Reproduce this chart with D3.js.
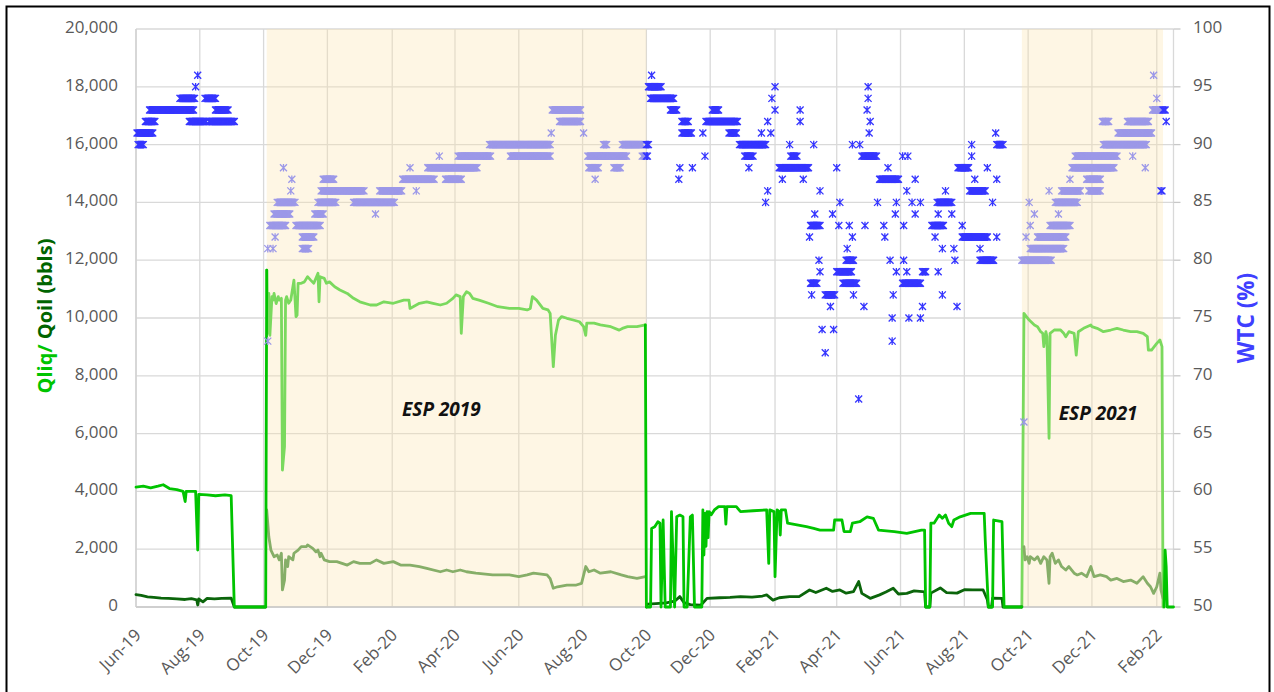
<!DOCTYPE html>
<html><head><meta charset="utf-8">
<script src="https://cdn.jsdelivr.net/npm/d3@7"></script>
<style>body{margin:0;background:#fff}svg{display:block}</style>
</head><body>
<svg id="c" width="1274" height="692"></svg>
<script>
// ---------- DATA ----------
// Qliq, conventional periods (bright green); null = gap
const qliqBase = [
["2019-06-01",4150],["2019-06-08",4180],["2019-06-15",4120],["2019-06-22",4180],["2019-06-27",4230],
["2019-07-03",4100],["2019-07-10",4060],["2019-07-16",4000],["2019-07-18",3650],["2019-07-19",4000],
["2019-07-28",4000],["2019-07-30",1970],["2019-07-31",3900],["2019-08-08",3880],["2019-08-16",3850],
["2019-08-25",3880],["2019-08-31",3850],["2019-09-03",0],["2019-10-03",0],["2019-10-04",11660],
["2019-10-05",null],
["2020-09-30",9760],["2020-10-01",0],["2020-10-05",0],["2020-10-06",2720],["2020-10-09",2780],
["2020-10-12",2950],["2020-10-14",2900],["2020-10-15",0],["2020-10-17",3010],["2020-10-19",0],
["2020-10-24",0],["2020-10-25",3300],["2020-10-28",0],["2020-10-30",3120],["2020-11-02",3180],
["2020-11-05",3120],["2020-11-06",0],["2020-11-09",0],["2020-11-12",3120],["2020-11-14",3180],
["2020-11-16",0],["2020-11-23",0],["2020-11-24",3360],["2020-11-25",1800],["2020-11-26",3240],
["2020-11-27",2100],["2020-11-28",3300],["2020-11-29",2400],["2020-11-30",3300],["2020-12-02",3190],
["2020-12-05",3360],["2020-12-09",3470],["2020-12-15",3470],["2020-12-16",2870],["2020-12-17",3470],
["2020-12-26",3470],["2020-12-30",3300],["2021-01-11",3330],["2021-01-24",3360],["2021-01-26",1510],
["2021-01-27",3360],["2021-01-31",3300],["2021-02-01",1050],["2021-02-03",3360],["2021-02-05",3300],
["2021-02-06",2490],["2021-02-07",3360],["2021-02-11",3360],["2021-02-13",2900],["2021-02-22",2840],
["2021-03-03",2780],["2021-03-10",2720],["2021-03-16",2660],["2021-03-29",2660],["2021-03-30",3010],
["2021-04-06",3010],["2021-04-08",2610],["2021-04-14",2610],["2021-04-16",2900],["2021-04-23",2950],
["2021-04-30",3120],["2021-05-06",3070],["2021-05-11",2660],["2021-05-26",2610],["2021-06-07",2550],
["2021-06-21",2660],["2021-06-24",2660],["2021-06-25",0],["2021-06-29",0],["2021-06-30",2900],
["2021-07-03",2900],["2021-07-08",3180],["2021-07-11",3070],["2021-07-14",3180],["2021-07-17",2900],
["2021-07-20",2780],["2021-07-22",3010],["2021-07-28",3120],["2021-08-07",3240],["2021-08-20",3240],
["2021-08-21",2320],["2021-08-24",0],["2021-08-28",0],["2021-08-29",3010],["2021-09-06",2950],
["2021-09-08",0],["2021-09-25",0],
["2021-09-26",null],
["2022-02-08",0],["2022-02-09",1970],["2022-02-10",1400],["2022-02-11",0],["2022-02-17",0]
];
// Qoil, conventional periods (dark green)
const qoilBase = [
["2019-06-01",430],["2019-06-06",400],["2019-06-12",350],["2019-06-18",330],["2019-06-25",310],
["2019-07-02",300],["2019-07-10",280],["2019-07-18",260],["2019-07-24",290],["2019-07-29",250],
["2019-07-30",70],["2019-07-31",280],["2019-08-04",180],["2019-08-08",300],["2019-08-15",280],
["2019-08-22",300],["2019-08-31",310],["2019-09-03",0],["2019-10-03",0],
["2019-10-04",null],
["2020-10-01",0],["2020-10-02",100],["2020-10-10",120],["2020-10-20",140],["2020-10-28",200],
["2020-11-02",360],["2020-11-06",150],["2020-11-12",80],["2020-11-22",60],["2020-11-28",300],
["2020-12-10",320],["2020-12-20",330],["2020-12-30",360],["2021-01-10",340],["2021-01-20",380],
["2021-01-24",420],["2021-01-30",240],["2021-02-05",320],["2021-02-15",360],["2021-02-24",360],
["2021-03-06",590],["2021-03-12",500],["2021-03-22",650],["2021-03-28",540],["2021-04-04",590],
["2021-04-10",480],["2021-04-17",530],["2021-04-22",880],["2021-04-25",470],["2021-05-03",300],
["2021-05-12",420],["2021-05-18",520],["2021-05-25",650],["2021-05-30",450],["2021-06-07",470],
["2021-06-14",560],["2021-06-22",530],["2021-06-24",520],["2021-06-25",0],["2021-06-29",0],
["2021-06-30",480],["2021-07-09",660],["2021-07-15",500],["2021-07-25",480],["2021-08-01",600],
["2021-08-09",590],["2021-08-19",590],["2021-08-23",250],["2021-08-24",0],["2021-08-27",0],
["2021-08-28",310],["2021-09-06",300],["2021-09-07",0],["2021-09-25",0]
];
// Qliq during ESP periods (light green)
const qliqEsp = [
["2019-10-04",11660],["2019-10-05",9470],["2019-10-06",10850],["2019-10-07",9400],["2019-10-09",10740],
["2019-10-10",10620],["2019-10-11",10850],["2019-10-13",10500],["2019-10-15",10740],["2019-10-16",10620],
["2019-10-18",10680],["2019-10-19",4740],["2019-10-21",5550],["2019-10-22",10620],["2019-10-23",10740],
["2019-10-25",10510],["2019-10-27",10620],["2019-10-29",11080],["2019-10-30",11310],["2019-11-01",10050],
["2019-11-02",10100],["2019-11-03",11200],["2019-11-06",11200],["2019-11-09",11250],["2019-11-12",11430],
["2019-11-15",11310],["2019-11-18",11200],["2019-11-22",11550],["2019-11-23",10560],["2019-11-24",11430],
["2019-11-28",11370],["2019-11-30",11200],["2019-12-03",11250],["2019-12-08",11080],["2019-12-13",10970],
["2019-12-20",10850],["2019-12-26",10680],["2020-01-01",10560],["2020-01-11",10450],["2020-01-17",10450],
["2020-01-24",10560],["2020-02-02",10510],["2020-02-12",10620],["2020-02-17",10620],["2020-02-18",10330],
["2020-02-21",10390],["2020-02-27",10510],["2020-03-05",10560],["2020-03-11",10510],["2020-03-18",10450],
["2020-03-24",10510],["2020-03-30",10680],["2020-04-02",10800],["2020-04-06",10740],["2020-04-07",9470],
["2020-04-09",10740],["2020-04-12",10910],["2020-04-15",10850],["2020-04-18",10680],["2020-04-24",10620],
["2020-05-03",10510],["2020-05-12",10390],["2020-05-23",10330],["2020-06-01",10330],["2020-06-09",10280],
["2020-06-12",10330],["2020-06-14",10740],["2020-06-18",10620],["2020-06-24",10330],["2020-06-29",10280],
["2020-07-01",10160],["2020-07-04",8320],["2020-07-06",9400],["2020-07-09",9930],["2020-07-12",10050],
["2020-07-17",9990],["2020-07-23",9930],["2020-07-29",9870],["2020-08-02",9700],["2020-08-04",9400],
["2020-08-05",9820],["2020-08-12",9820],["2020-08-18",9760],["2020-08-28",9700],["2020-09-05",9580],
["2020-09-08",9640],["2020-09-13",9700],["2020-09-22",9700],["2020-09-30",9760],
["2020-10-01",null],
["2021-09-25",0],["2021-09-27",10160],["2021-10-02",9930],["2021-10-07",9757],["2021-10-10",9700],
["2021-10-13",9526],["2021-10-15",9470],["2021-10-16",9007],["2021-10-18",9526],["2021-10-19",9353],
["2021-10-21",5836],["2021-10-22",9470],["2021-10-26",9584],["2021-11-01",9584],["2021-11-04",9470],
["2021-11-06",9353],["2021-11-09",9526],["2021-11-14",9470],["2021-11-16",8719],["2021-11-18",9526],
["2021-11-23",9642],["2021-11-30",9757],["2021-12-01",9700],["2021-12-06",9642],["2021-12-12",9526],
["2021-12-19",9584],["2021-12-25",9642],["2021-12-31",9584],["2022-01-07",9526],["2022-01-13",9526],
["2022-01-19",9470],["2022-01-23",9353],["2022-01-24",8892],["2022-01-27",8892],["2022-02-01",9122],
["2022-02-04",9238],["2022-02-06",9007],["2022-02-07",0]
];
// Qoil during ESP periods (olive)
const qoilEsp = [
["2019-10-04",3356],["2019-10-06",2430],["2019-10-08",1970],["2019-10-11",1740],["2019-10-14",1800],
["2019-10-16",1630],["2019-10-18",1860],["2019-10-19",590],["2019-10-21",930],["2019-10-22",1630],
["2019-10-24",1400],["2019-10-25",1740],["2019-10-29",1630],["2019-10-30",1860],["2019-11-03",1970],
["2019-11-06",2090],["2019-11-11",2090],["2019-11-12",2150],["2019-11-17",2030],["2019-11-20",1910],
["2019-11-22",1970],["2019-11-24",1740],["2019-11-25",1860],["2019-11-28",1630],["2019-12-03",1570],
["2019-12-10",1570],["2019-12-20",1450],["2019-12-26",1570],["2020-01-01",1510],["2020-01-11",1510],
["2020-01-17",1630],["2020-01-24",1510],["2020-02-02",1570],["2020-02-09",1450],["2020-02-18",1450],
["2020-02-27",1400],["2020-03-05",1340],["2020-03-18",1220],["2020-03-24",1280],["2020-03-30",1220],
["2020-04-06",1280],["2020-04-12",1220],["2020-04-21",1170],["2020-05-07",1110],["2020-05-23",1110],
["2020-06-01",1050],["2020-06-09",1110],["2020-06-15",1170],["2020-06-28",1110],["2020-07-01",980],
["2020-07-04",650],["2020-07-08",700],["2020-07-17",760],["2020-07-26",760],["2020-07-31",820],
["2020-08-04",1400],["2020-08-07",1220],["2020-08-12",1280],["2020-08-18",1170],["2020-08-28",1220],
["2020-09-07",1110],["2020-09-13",1050],["2020-09-22",990],["2020-09-30",1050],
["2020-10-01",null],
["2021-09-27",2090],["2021-09-28",1630],["2021-09-30",1740],["2021-10-02",1510],["2021-10-03",1740],
["2021-10-07",1630],["2021-10-10",1740],["2021-10-13",1510],["2021-10-16",1740],["2021-10-19",1630],
["2021-10-21",820],["2021-10-22",1740],["2021-10-24",1860],["2021-10-27",1510],["2021-10-30",1630],
["2021-11-02",1400],["2021-11-06",1280],["2021-11-09",1400],["2021-11-14",1170],["2021-11-17",1110],
["2021-11-21",1170],["2021-11-26",1050],["2021-11-30",1400],["2021-12-03",1050],["2021-12-09",1110],
["2021-12-15",1050],["2021-12-19",930],["2021-12-25",990],["2021-12-31",880],["2022-01-07",930],
["2022-01-13",820],["2022-01-19",1050],["2022-01-23",820],["2022-01-26",700],["2022-01-29",470],
["2022-02-01",700],["2022-02-04",1170],["2022-02-05",590],["2022-02-07",300]
];
// WTC daily readings, conventional periods: [value, first day, last day]
const wtcBase = [
[90,"2019-06-03","2019-06-08"],[91,"2019-06-02","2019-06-17"],[92,"2019-06-10","2019-06-19"],
[92,"2019-07-22","2019-08-07"],[92,"2019-08-10","2019-09-03"],[93,"2019-06-14","2019-07-26"],
[93,"2019-08-16","2019-08-28"],[94,"2019-07-13","2019-07-27"],[94,"2019-08-06","2019-08-16"],
[95,"2019-07-28"],[96,"2019-07-30"],
[96,"2020-10-06"],[95,"2020-10-03","2020-10-15"],[95,"2021-02-01"],[95,"2021-05-01"],
[94,"2020-10-05","2020-10-27"],[94,"2021-01-29"],[94,"2021-05-01"],
[93,"2020-10-24","2020-10-30"],[93,"2020-12-03","2020-12-09"],[93,"2021-02-01"],[93,"2021-02-25"],[93,"2021-04-30"],
[92,"2020-11-04","2020-11-10"],[92,"2020-11-27","2020-12-27"],[92,"2021-01-25"],[92,"2021-02-25"],[92,"2021-05-03"],
[91,"2020-11-04","2020-11-13"],[91,"2020-11-24"],[91,"2020-12-19","2020-12-26"],[91,"2021-01-19"],[91,"2021-01-28"],[91,"2021-05-02"],[91,"2021-08-31"],
[90,"2020-10-01","2020-10-03"],[90,"2020-12-29","2021-01-23"],[90,"2021-02-15"],[90,"2021-03-10"],[90,"2021-04-16"],[90,"2021-04-23"],[90,"2021-08-08"],[90,"2021-09-01","2021-09-07"],
[89,"2020-10-01","2020-10-02"],[89,"2020-11-26"],[89,"2021-01-03","2021-01-11"],[89,"2021-02-16","2021-02-22"],[89,"2021-04-25","2021-05-09"],[89,"2021-06-03"],[89,"2021-06-08"],[89,"2021-08-08"],
[88,"2020-11-02"],[88,"2020-11-14"],[88,"2021-01-07"],[88,"2021-02-05","2021-03-05"],[88,"2021-04-01"],[88,"2021-05-20"],[88,"2021-07-26","2021-08-05"],[88,"2021-08-23"],
[87,"2020-11-01"],[87,"2021-02-08"],[87,"2021-02-28"],[87,"2021-05-12","2021-05-30"],[87,"2021-06-15"],[87,"2021-08-11"],[87,"2021-09-01"],
[86,"2021-01-25"],[86,"2021-03-16"],[86,"2021-06-07"],[86,"2021-07-14"],[86,"2021-08-06","2021-08-21"],
[85,"2021-01-23"],[85,"2021-04-04"],[85,"2021-05-10"],[85,"2021-05-28"],[85,"2021-06-12"],[85,"2021-06-20"],[85,"2021-07-06","2021-07-20"],[85,"2021-08-28"],
[84,"2021-03-11"],[84,"2021-03-28"],[84,"2021-05-27"],[84,"2021-06-15"],[84,"2021-07-07"],[84,"2021-07-20"],
[83,"2021-03-07","2021-03-16"],[83,"2021-04-03"],[83,"2021-04-13"],[83,"2021-04-28"],[83,"2021-05-16"],[83,"2021-06-04"],[83,"2021-07-01","2021-07-12"],[83,"2021-07-30"],
[82,"2021-03-06"],[82,"2021-04-16"],[82,"2021-05-17"],[82,"2021-07-04"],[82,"2021-07-30","2021-08-23"],[82,"2021-09-01"],
[81,"2021-04-11"],[81,"2021-07-11"],[81,"2021-07-22"],[81,"2021-08-16"],
[80,"2021-03-15"],[80,"2021-04-10","2021-04-17"],[80,"2021-05-22"],[80,"2021-06-04"],[80,"2021-07-23"],[80,"2021-08-16","2021-08-29"],
[79,"2021-03-16"],[79,"2021-04-01","2021-04-15"],[79,"2021-05-28"],[79,"2021-06-07"],[79,"2021-06-22","2021-06-25"],[79,"2021-07-07"],
[78,"2021-03-07","2021-03-13"],[78,"2021-04-07","2021-04-20"],[78,"2021-06-03","2021-06-20"],
[77,"2021-03-08"],[77,"2021-03-21","2021-03-30"],[77,"2021-04-17"],[77,"2021-05-25"],[77,"2021-07-11"],
[76,"2021-03-26"],[76,"2021-04-27"],[76,"2021-06-22"],[76,"2021-07-25"],
[75,"2021-05-24"],[75,"2021-06-09"],[75,"2021-06-20"],
[74,"2021-03-18"],[74,"2021-03-29"],[73,"2021-05-24"],[72,"2021-03-21"],[68,"2021-04-22"],
[93,"2022-02-07","2022-02-09"],[92,"2022-02-10"],[86,"2022-02-05","2022-02-06"]
];
// WTC daily readings during ESP periods
const wtcEsp = [
[73,"2019-10-05"],[81,"2019-10-05"],[81,"2019-10-10"],[81,"2019-11-07","2019-11-13"],
[82,"2019-10-12"],[82,"2019-11-07","2019-11-18"],
[83,"2019-10-07","2019-10-22"],[83,"2019-11-01","2019-11-24"],
[84,"2019-10-11","2019-10-26"],[84,"2019-11-19","2019-11-27"],[84,"2020-01-16"],
[85,"2019-10-14","2019-10-31"],[85,"2019-11-22","2019-12-09"],[85,"2019-12-26","2020-02-03"],
[86,"2019-10-27"],[86,"2019-11-25","2020-01-05"],[86,"2020-01-20","2020-02-10"],[86,"2020-02-24"],
[87,"2019-10-28"],[87,"2019-11-27","2019-12-07"],[87,"2020-02-11","2020-03-12"],[87,"2020-03-23","2020-04-07"],[87,"2020-08-13"],
[88,"2019-10-20"],[88,"2020-02-18"],[88,"2020-03-06","2020-04-22"],[88,"2020-08-07","2020-08-16"],[88,"2020-08-31","2020-09-06"],
[89,"2020-03-17"],[89,"2020-04-04","2020-05-05"],[89,"2020-05-24","2020-07-01"],[89,"2020-08-06","2020-09-12"],[89,"2020-09-27","2020-09-30"],
[90,"2020-05-04","2020-07-01"],[90,"2020-08-21","2020-08-24"],[90,"2020-09-08","2020-09-27"],
[91,"2020-07-02"],[91,"2020-08-02"],[92,"2020-07-10","2020-07-30"],[93,"2020-07-03","2020-07-30"],
[66,"2021-09-27"],[80,"2021-09-25","2021-10-23"],[81,"2021-10-03","2021-11-04"],
[82,"2021-09-29"],[82,"2021-10-10","2021-11-06"],[83,"2021-10-03"],[83,"2021-10-22","2021-11-10"],
[84,"2021-10-07"],[84,"2021-10-30"],[85,"2021-10-02"],[85,"2021-10-27","2021-11-17"],
[86,"2021-10-21"],[86,"2021-11-02","2021-11-20"],[86,"2021-11-28","2021-12-09"],
[87,"2021-11-10"],[87,"2021-11-26","2021-12-09"],[88,"2021-11-12","2021-12-22"],[88,"2022-01-21"],
[89,"2021-11-15","2021-12-25"],[89,"2022-01-09"],[90,"2021-12-12","2022-01-22"],[91,"2021-12-26","2022-01-27"],
[92,"2021-12-11","2021-12-17"],[92,"2022-01-04","2022-01-24"],[93,"2022-01-28","2022-02-06"],
[94,"2022-02-01"],[96,"2022-01-29"]
];
const espPeriods = [["2019-10-04","2020-10-01"],["2021-09-25","2022-02-07"]];
const espLabels = [["ESP 2019","2020-03-19",6600],["ESP 2021","2021-12-07",6470]];
const leftTicks = [0,2000,4000,6000,8000,10000,12000,14000,16000,18000,20000];
const rightTicks = [50,55,60,65,70,75,80,85,90,95,100];
const monthTicks = ["2019-06-01","2019-08-01","2019-10-01","2019-12-01","2020-02-01","2020-04-01",
 "2020-06-01","2020-08-01","2020-10-01","2020-12-01","2021-02-01","2021-04-01","2021-06-01",
 "2021-08-01","2021-10-01","2021-12-01","2022-02-01"];
const xDomain = ["2019-06-01","2022-02-17"];

// ---------- CHART ----------
const parse = d3.utcParse("%Y-%m-%d");
const fmtMonth = d3.utcFormat("%b-%y");
const svg = d3.select("#c");
const FONT = "'Open Sans','Liberation Sans',sans-serif";
const L=136, R=1173.5, T=29, B=607;
const x = d3.scaleUtc().domain(xDomain.map(parse)).range([L,R]);
const yL = d3.scaleLinear().domain([0,20000]).range([B,T]);
const yR = d3.scaleLinear().domain([50,100]).range([B,T]);

svg.append("rect").attr("x",6.5).attr("y",6.5).attr("width",1263).attr("height",700)
  .attr("fill","#fff").attr("stroke","#000").attr("stroke-width",2);

// gridlines
const grid = svg.append("g").attr("stroke","#d9d9d9").attr("stroke-width",1.3);
grid.selectAll(".h").data(leftTicks).join("line")
  .attr("x1",L).attr("x2",R).attr("y1",d=>yL(d)).attr("y2",d=>yL(d));
grid.selectAll(".v").data(monthTicks).join("line")
  .attr("x1",d=>x(parse(d))).attr("x2",d=>x(parse(d))).attr("y1",T).attr("y2",B);
grid.append("line").attr("x1",R).attr("x2",R).attr("y1",T).attr("y2",B);

// ESP shading
svg.append("g").selectAll("rect").data(espPeriods).join("rect")
  .attr("x",d=>x(parse(d[0]))).attr("width",d=>x(parse(d[1]))-x(parse(d[0])))
  .attr("y",T).attr("height",B-T).attr("fill","rgba(251,228,170,0.32)");

// axes lines
svg.append("line").attr("x1",L).attr("x2",R).attr("y1",B).attr("y2",B).attr("stroke","#c8c8c8").attr("stroke-width",1.3);
svg.append("line").attr("x1",L).attr("x2",L).attr("y1",T).attr("y2",B).attr("stroke","#d0d0d0").attr("stroke-width",1.3);

// left axis labels
svg.append("g").selectAll("text").data(leftTicks).join("text")
  .attr("x",118).attr("y",d=>yL(d)-2).attr("dy","0.35em").attr("text-anchor","end")
  .attr("font-family",FONT).attr("font-size",17).attr("fill","#595959")
  .text(d=>d3.format(",")(d));
// right axis
const ra = svg.append("g");
ra.selectAll("line").data(rightTicks).join("line")
  .attr("x1",R).attr("x2",R+7).attr("y1",d=>yR(d)).attr("y2",d=>yR(d))
  .attr("stroke","#c8c8c8").attr("stroke-width",1.3);
ra.selectAll("text").data(rightTicks).join("text")
  .attr("x",1193).attr("y",d=>yR(d)-2).attr("dy","0.35em").attr("text-anchor","start")
  .attr("font-family",FONT).attr("font-size",17).attr("fill","#595959").text(d=>d);
// x labels
svg.append("g").selectAll("text").data(monthTicks).join("text")
  .attr("transform",d=>`translate(${x(parse(d))+2},632) rotate(-45)`)
  .attr("dy","0.35em").attr("text-anchor","end")
  .attr("font-family",FONT).attr("font-size",17).attr("fill","#595959")
  .text(d=>fmtMonth(parse(d)));

// axis titles
const lt = svg.append("text").attr("transform","translate(45,316) rotate(-90)")
  .attr("dy","0.35em").attr("text-anchor","middle").attr("font-family",FONT)
  .attr("font-size",20).attr("font-weight","bold");
lt.append("tspan").attr("fill","#00c400").text("Qliq/");
lt.append("tspan").attr("fill","#006400").text(" Qoil (bbls)");
svg.append("text").attr("transform","translate(1246,318) rotate(-90)")
  .attr("dy","0.35em").attr("text-anchor","middle").attr("font-family",FONT)
  .attr("font-size",22.5).attr("font-weight","bold").attr("fill","#3f3fff").text("WTC (%)");

// ESP labels
svg.append("g").selectAll("text").data(espLabels).join("text")
  .attr("x",d=>x(parse(d[1]))).attr("y",d=>yL(d[2])).attr("text-anchor","middle")
  .attr("font-family",FONT).attr("font-size",19).attr("font-weight","bold")
  .attr("font-style","italic").attr("fill","#111").text(d=>d[0]);

// lines
const line = d3.line().defined(d=>d[1]!=null).x(d=>x(parse(d[0]))).y(d=>yL(d[1]));
const series = [[qliqEsp,"#7ad95e"],[qoilEsp,"#86ae68"],[qoilBase,"#0b650b"],[qliqBase,"#00c400"]];
svg.append("g").selectAll("path").data(series).join("path")
  .attr("d",d=>line(d[0])).attr("fill","none").attr("stroke",d=>d[1])
  .attr("stroke-width",2.8).attr("stroke-linejoin","round").attr("stroke-linecap","round");

// WTC markers (asterisk)
function expand(runs){
  const out=[];
  runs.forEach(r=>{
    const a=parse(r[1]), b=r[2]?parse(r[2]):a;
    d3.utcDay.range(a,d3.utcDay.offset(b,1)).forEach(t=>out.push([t,r[0]]));
  });
  return out;
}
const star = "M-3.5,-3.5L3.5,3.5M-3.5,3.5L3.5,-3.5M0,-3.8L0,3.8";
function drawMarkers(runs,color){
  svg.append("g").selectAll("path").data(expand(runs)).join("path")
    .attr("transform",d=>`translate(${x(d[0])},${yR(d[1])})`)
    .attr("d",star).attr("fill","none").attr("stroke",color).attr("stroke-width",1.3);
}
drawMarkers(wtcEsp,"#9c98e8");
drawMarkers(wtcBase,"#3535ff");
</script>
</body></html>
